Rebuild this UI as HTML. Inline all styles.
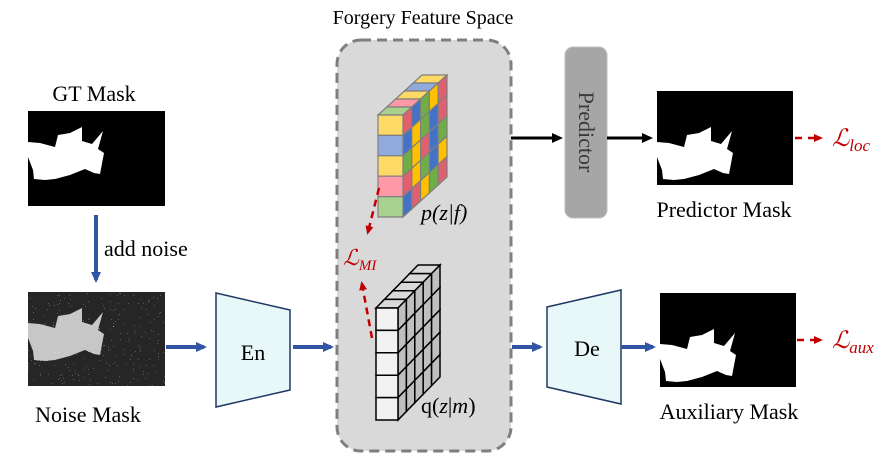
<!DOCTYPE html>
<html><head><meta charset="utf-8">
<style>
html,body{margin:0;padding:0;background:#fff;width:891px;height:458px;overflow:hidden}
svg{display:block}
svg text{font-family:"Liberation Serif","Times New Roman","DejaVu Serif","Noto Serif CJK SC",serif}
</style></head><body>
<svg id="s" width="891" height="458" viewBox="0 0 891 458" xmlns="http://www.w3.org/2000/svg">
<defs>
<marker id="ab" markerWidth="12" markerHeight="12" refX="8" refY="5" orient="auto" markerUnits="userSpaceOnUse"><path d="M0,0 L11,5 L0,10 Z" fill="#2f55a4"/></marker>
<marker id="ak" markerWidth="12" markerHeight="12" refX="8" refY="5" orient="auto" markerUnits="userSpaceOnUse"><path d="M0,0 L11,5 L0,10 Z" fill="#000"/></marker>
<marker id="ar" markerWidth="10" markerHeight="10" refX="6" refY="4" orient="auto" markerUnits="userSpaceOnUse"><path d="M0,0 L9,4 L0,8 Z" fill="#c00000"/></marker>
<filter id="noise" x="0" y="0" width="100%" height="100%">
<feTurbulence type="fractalNoise" baseFrequency="1.2" numOctaves="1" seed="3" result="t"/>
<feColorMatrix in="t" type="matrix" values="0 0 0 1 0 0 0 0 1 0 0 0 0 1 0 0 0 0 0 1" result="g"/>
<feComponentTransfer in="g" result="b"><feFuncR type="discrete" tableValues="0 0 0 1"/><feFuncG type="discrete" tableValues="0 0 0 1"/><feFuncB type="discrete" tableValues="0 0 0 1"/><feFuncA type="linear" slope="0" intercept="1"/></feComponentTransfer>
<feComposite in="b" in2="SourceGraphic" operator="arithmetic" k1="0" k2="0.9" k3="0.55" k4="0.02"/>
</filter>
<clipPath id="nc"><rect x="28" y="292" width="137" height="94"/></clipPath>
<path id="shape" d="M0,31 L12,32 L27,36 L30,24 L42,22 L54,16 L54,30 L64,33 L75,20 L70,38 L76,42 L72,63 L66,62 L57,58 L42,64 L27,68 L17,69 L6,68 L5,59 L0,46 Z"/>
</defs>

<text x="423" y="24" font-size="20" text-anchor="middle">Forgery Feature Space</text>
<rect x="337" y="40" width="174" height="411" rx="24" fill="#d9d9d9" stroke="#7f7f7f" stroke-width="3" stroke-dasharray="10,6"/>

<text x="94" y="101" font-size="22" text-anchor="middle">GT Mask</text>
<rect x="28" y="111" width="137" height="95" fill="#000"/>
<use href="#shape" x="28" y="111" fill="#fff"/>
<line x1="96" y1="215" x2="96" y2="280" stroke="#2f55a4" stroke-width="4" marker-end="url(#ab)"/>
<text x="104" y="256" font-size="22">add noise</text>

<g clip-path="url(#nc)">
<g filter="url(#noise)">
<rect x="28" y="292" width="137" height="94" fill="#000"/>
<use href="#shape" x="28" y="292" fill="#fff"/>
</g></g>
<text x="88" y="422" font-size="22" text-anchor="middle">Noise Mask</text>

<line x1="166" y1="347" x2="204" y2="347" stroke="#2f55a4" stroke-width="4" marker-end="url(#ab)"/>
<polygon points="216,293 290,310 290,390 216,407" fill="#e8f7f7" stroke="#203864" stroke-width="1.5"/>
<text x="253" y="360" font-size="22" text-anchor="middle">En</text>
<line x1="293" y1="347" x2="331" y2="347" stroke="#2f55a4" stroke-width="4" marker-end="url(#ab)"/>

<g id="cubes"></g>

<text x="421" y="220" font-size="22" font-style="italic">p(z|f)</text>
<text x="421" y="413" font-size="22"><tspan>q(</tspan><tspan font-style="italic">z</tspan><tspan>|</tspan><tspan font-style="italic">m</tspan><tspan>)</tspan></text>

<line x1="379" y1="188" x2="368" y2="232" stroke="#c00000" stroke-width="2.5" stroke-dasharray="7,5" marker-end="url(#ar)"/>
<line x1="372" y1="338" x2="362" y2="284" stroke="#c00000" stroke-width="2.5" stroke-dasharray="7,5" marker-end="url(#ar)"/>
<text x="343" y="265" font-size="22" font-style="italic" fill="#c00000">ℒ<tspan font-size="15" dy="5">MI</tspan></text>

<line x1="511" y1="138" x2="560" y2="138" stroke="#000" stroke-width="3" marker-end="url(#ak)"/>
<rect x="565" y="47" width="42" height="171" rx="8" fill="#a6a6a6" stroke="#bfbfbf" stroke-width="1"/>
<text x="0" y="0" font-size="22" text-anchor="middle" transform="translate(579 132) rotate(90)" fill="#3a3a3a">Predictor</text>
<line x1="607" y1="138" x2="650" y2="138" stroke="#000" stroke-width="3" marker-end="url(#ak)"/>
<rect x="657" y="91" width="136" height="94" fill="#000"/>
<use href="#shape" x="657" y="111" fill="#fff"/>
<text x="724" y="217" font-size="22" text-anchor="middle">Predictor Mask</text>
<line x1="795" y1="138" x2="820" y2="138" stroke="#c00000" stroke-width="2.5" stroke-dasharray="7,6" marker-end="url(#ar)"/>
<text x="832" y="146" font-size="24" font-style="italic" fill="#c00000">ℒ<tspan font-size="17" dy="5">loc</tspan></text>

<line x1="512" y1="347" x2="540" y2="347" stroke="#2f55a4" stroke-width="4" marker-end="url(#ab)"/>
<polygon points="547,307 621,290 621,404 547,387" fill="#e8f7f7" stroke="#203864" stroke-width="1.5"/>
<text x="587" y="356" font-size="22" text-anchor="middle">De</text>
<line x1="621" y1="347" x2="653" y2="347" stroke="#2f55a4" stroke-width="4" marker-end="url(#ab)"/>
<rect x="660" y="293" width="136" height="94" fill="#000"/>
<use href="#shape" x="660" y="313" fill="#fff"/>
<text x="729" y="419" font-size="22" text-anchor="middle">Auxiliary Mask</text>
<line x1="797" y1="340" x2="820" y2="340" stroke="#c00000" stroke-width="2.5" stroke-dasharray="7,6" marker-end="url(#ar)"/>
<text x="832" y="348" font-size="24" font-style="italic" fill="#c00000">ℒ<tspan font-size="17" dy="5">aux</tspan></text>
</svg>
<script>
(function(){
var NS="http://www.w3.org/2000/svg",g=document.getElementById("cubes");
function poly(pts,fill,stroke,sw){var p=document.createElementNS(NS,"polygon");p.setAttribute("points",pts.map(function(a){return a[0].toFixed(1)+","+a[1].toFixed(1)}).join(" "));p.setAttribute("fill",fill);p.setAttribute("stroke",stroke);p.setAttribute("stroke-width",sw);g.appendChild(p);}
var cols=[["#ffd966","#ffc000"],["#8faadc","#4472c4"],["#ff99a8","#e06070"],["#a9d18e","#70ad47"]];
var seq=[0,1,0,2,3,2,1,3,0,2,1,0,3,1,2,3,0,2,1,3,2,0,3,1,0,1,2,0,3,2,1,0,2,3,1,0,3,2,0,1];
function cube(x,y,w,h,dx,dy,colored){
 var n=5,ch=h/n,sx=dx/n,sy=dy/n,k=0;
 var st=colored?"#7f7f7f":"#000",sw=colored?1.2:1.5;
 for(var d=n-1;d>=0;d--){
  var c=colored?cols[seq[(k++)%seq.length]][0]:"#d9d9d9";
  poly([[x+d*sx,y+d*sy],[x+w+d*sx,y+d*sy],[x+w+(d+1)*sx,y+(d+1)*sy],[x+(d+1)*sx,y+(d+1)*sy]],c,st,sw);
 }
 for(var r=0;r<n;r++)for(var d2=0;d2<n;d2++){
  var c2=colored?cols[seq[(k++)%seq.length]][1]:"#bfbfbf";
  var X=x+w,Y=y+r*ch;
  poly([[X+d2*sx,Y+d2*sy],[X+(d2+1)*sx,Y+(d2+1)*sy],[X+(d2+1)*sx,Y+ch+(d2+1)*sy],[X+d2*sx,Y+ch+d2*sy]],c2,st,sw);
 }
 var front=[0,1,0,2,3];
 for(var r2=0;r2<n;r2++){
  var c3=colored?cols[front[r2]][0]:"#f2f2f2";
  poly([[x,y+r2*ch],[x+w,y+r2*ch],[x+w,y+(r2+1)*ch],[x,y+(r2+1)*ch]],c3,st,sw);
 }
}
cube(378,115,25,102,44,-40,true);
cube(376,308,22,112,42,-43,false);
})();
</script>
</body></html>
